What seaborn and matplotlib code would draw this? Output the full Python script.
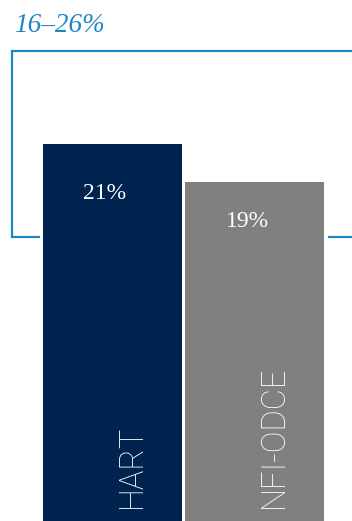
import matplotlib
matplotlib.use("Agg")
import matplotlib.pyplot as plt
import seaborn as sns
import pandas as pd

# Data
categories = ["HART", "NFI-ODCE"]
returns = [21, 19]
value_labels = ["21%", "19%"]
range_low, range_high = 16, 26
range_label = "16–26%"

bar_colors = ["#00234f", "#808080"]
accent = "#1d87c6"

sns.set_theme(style="white")

W, H = 352, 521
fig = plt.figure(figsize=(W / 100, H / 100), dpi=100)
ax = fig.add_axes([0, 0, 1, 1])

df = pd.DataFrame({"fund": categories, "ret": returns})
sns.barplot(data=df, x="fund", y="ret", hue="fund", palette=bar_colors,
            width=0.975, saturation=1, legend=False, ax=ax, linewidth=0)

# axis scaling: pixels per percentage point and zero position (px from top)
px_per = 18.6
zero_px = 535
ax.set_ylim((zero_px - H) / px_per, zero_px / px_per)
x_px_per = 142.4
x0_px = 112.5
ax.set_xlim(-x0_px / x_px_per, (W - x0_px) / x_px_per)
ax.set_axis_off()

# range bracket
left_x = (12 - x0_px) / x_px_per
left_end = (40 - x0_px) / x_px_per
right_start = (328 - x0_px) / x_px_per
right_end = (W + 5 - x0_px) / x_px_per
lw = 1.6
ax.plot([right_end, left_x, left_x, left_end],
        [range_high, range_high, range_low, range_low],
        color=accent, lw=lw, solid_capstyle="butt", solid_joinstyle="miter",
        clip_on=False, zorder=1)
ax.plot([right_start, right_end], [range_low, range_low],
        color=accent, lw=lw, solid_capstyle="butt", clip_on=False, zorder=1)

fig.text(14 / W, 1 - 32 / H, range_label, color=accent,
         fontfamily="Liberation Serif", fontstyle="italic", fontsize=19.5,
         ha="left", va="baseline")

# value labels inside bars
label_drop_px = [49.5, 40]
for i, (v, lab) in enumerate(zip(returns, value_labels)):
    ax.annotate(lab, xy=(i, v), xytext=(-7.5 * 0.72, -label_drop_px[i] * 0.72),
                textcoords="offset points", ha="center", va="center",
                color="white", fontfamily="Liberation Serif", fontsize=17)

# rotated category names
for i, name in enumerate(categories):
    ax.annotate(name, xy=(i, 0), xycoords=("data", "axes fraction"),
                xytext=(19 * 0.72, 13 * 0.72), textcoords="offset points",
                rotation=90, ha="center", va="bottom", color="white",
                fontfamily="Roboto", fontweight="light", fontsize=23.5)

fig.savefig("out.png", dpi=100)
